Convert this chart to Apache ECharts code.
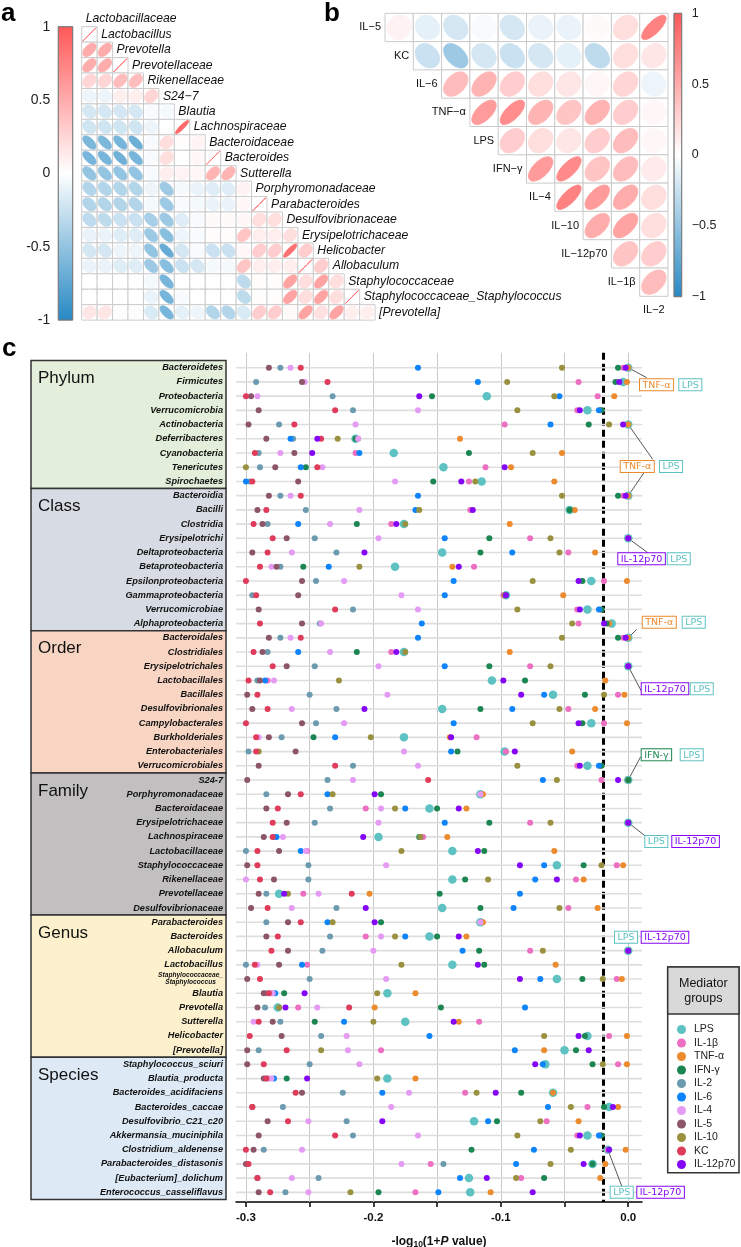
<!DOCTYPE html>
<html>
<head>
<meta charset="utf-8">
<script src="https://cdn.jsdelivr.net/npm/echarts@6.0.0/dist/echarts.min.js"></script>
<style>
html,body{margin:0;padding:0;background:#ffffff;}
#chart{width:741px;height:1247px;}
</style>
</head>
<body>
<div id="chart"></div>
<script>
// ================= DATA =================
// Panel a: taxa correlation (lower triangle, row i has i values)
const taxaA = ['Lactobacillaceae','Lactobacillus','Prevotella','Prevotellaceae','Rikenellaceae','S24\u22127','Blautia','Lachnospiraceae','Bacteroidaceae','Bacteroides','Sutterella','Porphyromonadaceae','Parabacteroides','Desulfovibrionaceae','Erysipelotrichaceae','Helicobacter','Allobaculum','Staphylococcaceae','Staphylococcaceae_Staphylococcus','[Prevotella]'];
const corrA = [
  [],
  [1],
  [0.5, 0.5],
  [0.5, 0.5, 1],
  [0.25, 0.25, 0.4, 0.4],
  [-0.08, -0.08, 0.1, 0.1, 0.25],
  [-0.2, -0.2, -0.2, -0.2, -0.03, -0.05],
  [-0.22, -0.22, -0.22, -0.22, -0.08, -0.01, 0.9],
  [-0.6, -0.6, -0.62, -0.68, -0.03, 0.2, 0.02, 0.07],
  [-0.62, -0.62, -0.66, -0.62, -0.03, 0.2, 0.0, 0.05, 1],
  [-0.5, -0.5, -0.5, -0.5, -0.03, 0.1, 0.07, 0.05, 0.45, 0.45],
  [-0.35, -0.35, -0.35, -0.35, -0.08, -0.45, -0.05, -0.1, -0.15, -0.15, 0.08],
  [-0.35, -0.35, -0.35, -0.35, -0.05, -0.45, -0.03, -0.05, -0.1, -0.1, 0.05, 1],
  [-0.3, -0.3, -0.25, -0.25, -0.4, -0.45, -0.15, -0.03, 0.03, 0.03, 0.05, 0.2, 0.2],
  [-0.1, -0.1, -0.15, -0.15, -0.45, -0.55, -0.08, -0.03, 0.02, 0.02, 0.35, 0.1, 0.1, 0.2],
  [-0.2, -0.2, -0.08, -0.08, -0.5, -0.7, -0.2, -0.03, -0.25, -0.25, 0.05, 0.3, 0.3, 0.85, 0.3],
  [-0.1, -0.1, -0.15, -0.15, -0.45, -0.55, -0.25, -0.2, -0.05, -0.05, 0.35, 0.1, 0.1, 0.1, 1, 0.3],
  [0, 0, 0, 0, -0.05, -0.62, 0, 0, 0, 0, -0.3, 0.02, 0.02, 0.55, 0.2, 0.55, 0.2],
  [0, 0, 0, 0, -0.1, -0.62, -0.03, 0, 0, 0, -0.3, 0.02, 0.02, 0.55, 0.2, 0.55, 0.2, 1],
  [0.15, 0.15, 0.02, 0.02, -0.18, -0.62, -0.12, -0.08, -0.35, -0.35, -0.18, 0.3, 0.3, 0.03, 0.55, 0.18, 0.55, 0.1, 0.1]
];
// Panel b: mediator correlation (upper triangle, row i has values for columns i+1..10)
const medsB = ['IL\u22125','KC','IL\u22126','TNF\u2212\u03b1','LPS','IFN\u2212\u03b3','IL\u22124','IL\u221210','IL\u221212p70','IL\u22121\u03b2','IL\u22122'];
const corrB = [
  [0.08, -0.12, -0.2, -0.03, -0.2, -0.1, -0.1, 0.03, 0.2, 0.75],
  [-0.25, -0.45, -0.2, -0.25, -0.2, -0.12, -0.3, 0.2, 0.15],
  [0.4, 0.45, 0.3, 0.2, 0.15, 0.05, 0.25, -0.08],
  [0.6, 0.68, 0.45, 0.35, 0.45, 0.3, 0.05],
  [0.3, 0.2, 0.15, 0.3, 0.4, 0.05],
  [0.6, 0.7, 0.35, 0.4, 0.12],
  [0.75, 0.6, 0.5, 0.2],
  [0.5, 0.55, 0.2],
  [0.35, 0.3],
  [0.4]
];
const corrTicks = [-1, -0.5, 0, 0.5, 1];

// Panel c: taxa by level
const levels = ['Phylum','Class','Order','Family','Genus','Species'];
const phylumTaxa = ['Bacteroidetes','Firmicutes','Proteobacteria','Verrucomicrobia','Actinobacteria','Deferribacteres','Cyanobacteria','Tenericutes','Spirochaetes'];
const classTaxa = ['Bacteroidia','Bacilli','Clostridia','Erysipelotrichi','Deltaproteobacteria','Betaproteobacteria','Epsilonproteobacteria','Gammaproteobacteria','Verrucomicrobiae','Alphaproteobacteria'];
const orderTaxa = ['Bacteroidales','Clostridiales','Erysipelotrichales','Lactobacillales','Bacillales','Desulfovibrionales','Campylobacterales','Burkholderiales','Enterobacteriales','Verrucomicrobiales'];
const familyTaxa = ['S24-7','Porphyromonadaceae','Bacteroidaceae','Erysipelotrichaceae','Lachnospiraceae','Lactobacillaceae','Staphylococcaceae','Rikenellaceae','Prevotellaceae','Desulfovibrionaceae'];
const genusTaxa = ['Parabacteroides','Bacteroides','Allobaculum','Lactobacillus','Staphylococcaceae_Staphylococcus','Blautia','Prevotella','Sutterella','Helicobacter','[Prevotella]'];
const speciesTaxa = ['Staphylococcus_sciuri','Blautia_producta','Bacteroides_acidifaciens','Bacteroides_caccae','Desulfovibrio_C21_c20','Akkermansia_muciniphila','Clostridium_aldenense','Parabacteroides_distasonis','[Eubacterium]_dolichum','Enterococcus_casseliflavus'];

const mediators = ['LPS','IL-1\u03b2','TNF-\u03b1','IFN-\u03b3','IL-2','IL-6','IL-4','IL-5','IL-10','KC','IL-12p70'];

// -log10(1+P) per taxon (59 rows) for each mediator
const valLPS = [
0, -0.004, -0.111, -0.032, 0, -0.214, -0.184, -0.145, -0.115,
0, -0.046, -0.176, 0, -0.146, -0.183, -0.029, -0.096, -0.032, -0.013,
0, -0.176, 0, -0.107, -0.059, -0.146, -0.029, -0.176, -0.097, -0.032,
0, -0.116, -0.156, 0, -0.196, -0.138, -0.056, -0.138, -0.274, -0.146,
-0.116, -0.156, 0, -0.138, -0.056, -0.189, -0.275, -0.175, -0.032, -0.050,
-0.065, -0.189, -0.059, -0.015, -0.121, -0.032, -0.016, -0.028, -0.125, -0.124];
const valIL1b = [
-0.004, -0.039, -0.024, -0.040, -0.097, -0.212, -0.214, -0.112, -0.125,
-0.004, -0.124, -0.186, -0.077, -0.047, -0.121, -0.019, -0.098, -0.040, -0.039,
-0.004, -0.186, -0.077, -0.283, -0.008, -0.047, -0.019, -0.119, -0.096, -0.040,
-0.021, -0.115, -0.206, -0.077, -0.161, -0.252, -0.009, -0.041, -0.255, -0.047,
-0.115, -0.206, -0.077, -0.252, -0.009, -0.280, -0.259, -0.117, -0.015, -0.194,
-0.008, -0.282, -0.128, -0.032, -0.064, -0.040, -0.016, -0.155, -0.084, -0.167];
const valTNFa = [
0, -0.001, -0.011, -0.022, 0, -0.132, -0.052, -0.092, -0.058,
0, -0.042, -0.093, 0, -0.026, -0.138, -0.001, -0.051, -0.022, -0.015,
0, -0.093, 0, -0.018, -0.003, -0.026, -0.001, -0.140, -0.044, -0.022,
0, -0.114, -0.127, 0, -0.142, -0.058, -0.004, -0.035, -0.203, -0.024,
-0.114, -0.127, 0, -0.057, -0.005, -0.167, -0.199, -0.133, -0.001, -0.066,
-0.001, -0.167, -0.059, -0.008, -0.039, -0.022, -0.002, -0.018, -0.022, -0.108];
const valIFNg = [
-0.008, -0.010, -0.154, -0.021, -0.031, -0.214, -0.125, -0.253, -0.153,
-0.008, -0.046, -0.213, -0.109, -0.116, -0.255, -0.036, -0.096, -0.021, -0.017,
-0.008, -0.213, -0.109, -0.081, -0.034, -0.116, -0.036, -0.247, -0.134, -0.021,
0, -0.194, -0.150, -0.109, -0.164, -0.113, -0.035, -0.128, -0.148, -0.116,
-0.194, -0.150, -0.117, -0.113, -0.036, -0.270, -0.147, -0.246, -0.034, -0.041,
-0.028, -0.268, -0.084, -0.019, -0.103, -0.021, -0.123, -0.028, -0.066, -0.196];
const valIL2 = [
-0.273, -0.292, -0.232, -0.216, -0.274, -0.263, -0.290, -0.289, -0.297,
-0.273, -0.253, -0.283, -0.246, -0.229, -0.273, -0.245, -0.295, -0.216, -0.242,
-0.273, -0.283, -0.246, -0.291, -0.250, -0.229, -0.245, -0.272, -0.298, -0.216,
-0.236, -0.284, -0.234, -0.246, -0.278, -0.300, -0.251, -0.251, -0.284, -0.229,
-0.284, -0.234, -0.240, -0.300, -0.250, -0.284, -0.285, -0.273, -0.241, -0.290,
-0.250, -0.284, -0.224, -0.271, -0.221, -0.216, -0.286, -0.145, -0.243, -0.269];
const valIL6 = [
-0.165, -0.118, -0.054, -0.023, -0.061, -0.265, -0.211, -0.257, -0.300,
-0.165, -0.167, -0.259, -0.144, -0.091, -0.235, -0.137, -0.144, -0.023, -0.162,
-0.165, -0.259, -0.144, -0.285, -0.066, -0.091, -0.137, -0.230, -0.139, -0.023,
-0.067, -0.236, -0.175, -0.144, -0.276, -0.257, -0.066, -0.073, -0.085, -0.090,
-0.236, -0.175, -0.130, -0.256, -0.069, -0.277, -0.081, -0.223, -0.156, -0.089,
-0.067, -0.278, -0.193, -0.063, -0.110, -0.023, -0.074, -0.088, -0.132, -0.149];
const valIL4 = [
-0.265, -0.254, -0.291, -0.165, -0.214, -0.212, -0.273, -0.240, -0.183,
-0.265, -0.211, -0.234, -0.196, -0.264, -0.280, -0.223, -0.178, -0.165, -0.241,
-0.265, -0.234, -0.196, -0.278, -0.189, -0.264, -0.223, -0.290, -0.176, -0.165,
-0.216, -0.116, -0.194, -0.196, -0.271, -0.253, -0.190, -0.300, -0.243, -0.264,
-0.116, -0.194, -0.200, -0.291, -0.190, -0.279, -0.244, -0.294, -0.221, -0.220,
-0.211, -0.280, -0.172, -0.186, -0.251, -0.165, -0.256, -0.178, -0.264, -0.251];
const valIL5 = [
-0.282, -0.256, -0.296, -0.290, -0.298, -0.284, -0.262, -0.277, -0.259,
-0.282, -0.291, -0.287, -0.268, -0.295, -0.276, -0.256, -0.259, -0.290, -0.256,
-0.282, -0.287, -0.268, -0.289, -0.299, -0.295, -0.256, -0.282, -0.261, -0.290,
-0.299, -0.267, -0.284, -0.268, -0.286, -0.274, -0.299, -0.278, -0.290, -0.296,
-0.267, -0.284, -0.267, -0.274, -0.299, -0.286, -0.291, -0.279, -0.272, -0.299,
-0.299, -0.286, -0.256, -0.295, -0.283, -0.290, -0.294, -0.300, -0.291, -0.290];
const valIL10 = [
-0.052, -0.095, -0.058, -0.087, -0.015, -0.228, -0.075, -0.300, -0.120,
-0.052, -0.164, -0.175, -0.061, -0.054, -0.211, -0.075, -0.097, -0.087, -0.044,
-0.052, -0.175, -0.061, -0.227, -0.019, -0.054, -0.075, -0.202, -0.290, -0.087,
-0.056, -0.232, -0.183, -0.061, -0.163, -0.178, -0.021, -0.110, -0.267, -0.054,
-0.232, -0.183, -0.067, -0.178, -0.020, -0.197, -0.274, -0.200, -0.066, -0.241,
-0.020, -0.197, -0.119, -0.045, -0.069, -0.087, -0.045, -0.061, -0.088, -0.218];
const valKC = [
-0.257, -0.236, -0.300, -0.230, -0.262, -0.241, -0.293, -0.244, -0.295,
-0.257, -0.284, -0.294, -0.279, -0.283, -0.289, -0.300, -0.292, -0.230, -0.289,
-0.257, -0.294, -0.279, -0.298, -0.291, -0.283, -0.300, -0.292, -0.292, -0.230,
-0.157, -0.257, -0.275, -0.279, -0.279, -0.291, -0.291, -0.289, -0.217, -0.283,
-0.257, -0.275, -0.280, -0.293, -0.289, -0.282, -0.219, -0.290, -0.297, -0.268,
-0.286, -0.284, -0.261, -0.295, -0.267, -0.230, -0.300, -0.298, -0.291, -0.281];
const valIL12p70 = [
-0.002, -0.007, -0.164, -0.038, -0.004, -0.244, -0.248, -0.097, -0.131,
-0.002, -0.122, -0.182, 0, -0.207, -0.133, -0.039, -0.096, -0.038, -0.019,
-0.002, -0.182, 0, -0.098, -0.084, -0.207, -0.039, -0.139, -0.089, -0.038,
-0.008, -0.199, -0.133, 0, -0.208, -0.118, -0.085, -0.056, -0.270, -0.206,
-0.199, -0.133, 0, -0.118, -0.085, -0.254, -0.269, -0.137, -0.039, -0.031,
-0.073, -0.252, -0.104, -0.012, -0.193, -0.038, -0.015, -0.035, -0.111, -0.075];

const xTickVals = [-0.3, -0.25, -0.2, -0.15, -0.1, -0.05, 0];
const xLabelVals = [-0.3, -0.2, -0.1, 0];
const cutoff = -0.0212; // -log10(1+0.05)

// ================= STYLE / LAYOUT =================
const FONT = '"Liberation Sans", Arial, sans-serif';
const medColors = ['#5ec2c2','#ec6fc2','#ec8a2e','#1c8652','#6c9bb0','#0d84fb','#e59bf3','#8c5568','#9a9140','#df3b5b','#8505f6'];
const levelColors = ['#e3eedb','#d7dce4','#f8d5c3','#c1bfbf','#fdf1cd','#dde9f5'];
const levelTaxa = [phylumTaxa, classTaxa, orderTaxa, familyTaxa, genusTaxa, speciesTaxa];
const taxaC = [].concat(...levelTaxa);

function corrColor(r){
  const w=[255,255,255], pos=[255,88,88], neg=[38,136,195];
  const c = r<0?neg:pos, t=Math.min(1,Math.abs(r));
  return 'rgb('+w.map((v,k)=>Math.round(v+(c[k]-v)*t)).join(',')+')';
}
function ellipsePoints(cx, cy, s, r){
  const d=Math.acos(Math.max(-1,Math.min(1,r))), pts=[];
  for(let k=0;k<64;k++){const t=k/64*2*Math.PI; pts.push([cx+s*Math.cos(t+d/2), cy-s*Math.cos(t-d/2)]);}
  return pts;
}
function cellShape(p0,p1,r,scale){
  const x=Math.min(p0[0],p1[0]), y=Math.min(p0[1],p1[1]);
  const w=Math.abs(p1[0]-p0[0]), h=Math.abs(p1[1]-p0[1]);
  const col=corrColor(r);
  return {type:'group', children:[
    {type:'rect', shape:{x:x,y:y,width:w,height:h}, style:{fill:'#fff', stroke:'#cbcbcb', lineWidth:1}},
    {type:'polygon', shape:{points:ellipsePoints(x+w/2,y+h/2,w*scale,r)}, style:{fill:col, stroke:col, lineWidth:0.9}}
  ]};
}
function gradientBar(api){
  const p0=api.coord([0,1]), p1=api.coord([1,-1]);
  return {type:'rect', shape:{x:p0[0], y:p0[1], width:p1[0]-p0[0], height:p1[1]-p0[1]},
    style:{fill:new echarts.graphic.LinearGradient(0,0,0,1,[{offset:0,color:corrColor(1)},{offset:0.5,color:'#ffffff'},{offset:1,color:corrColor(-1)}]), stroke:'#777', lineWidth:0.8}};
}

const cellsAData=[]; corrA.forEach((row,i)=>row.forEach((r,j)=>cellsAData.push([j,i,r])));
const cellsBData=[]; corrB.forEach((row,i)=>row.forEach((r,k)=>cellsBData.push([i+1+k,i,r])));

const chart = echarts.init(document.getElementById('chart'), null, {renderer:'canvas', width:741, height:1247});

const hiddenX = (g,max)=>({gridIndex:g, type:'value', min:0, max:max, show:false});
const series = [
  {name:'cellsA', type:'custom', xAxisIndex:0, yAxisIndex:0, silent:true, data:cellsAData,
   renderItem:(p,api)=>{const j=api.value(0), i=api.value(1); return cellShape(api.coord([j,i-1]),api.coord([j+1,i]),api.value(2),0.43);}},
  {name:'labelsA', type:'custom', xAxisIndex:0, yAxisIndex:0, silent:true, data:taxaA.map((_,i)=>[i,i]),
   renderItem:(p,api)=>{const i=api.value(0); const pt=api.coord([i,i-0.5]);
     return {type:'text', x:pt[0]+4, y:pt[1], style:{text:taxaA[i], font:'italic 12.2px '+FONT, fill:'#111', align:'left', verticalAlign:'middle'}};}},
  {name:'cellsB', type:'custom', xAxisIndex:1, yAxisIndex:1, silent:true, data:cellsBData,
   renderItem:(p,api)=>{const j=api.value(0), i=api.value(1); return cellShape(api.coord([j-1,i]),api.coord([j,i+1]),api.value(2),0.43);}},
  {name:'labelsB', type:'custom', xAxisIndex:1, yAxisIndex:1, silent:true, data:medsB.map((_,i)=>[i,i]),
   renderItem:(p,api)=>{const i=api.value(0);
     if(i<10){const pt=api.coord([i,i+0.5]); return {type:'text', x:pt[0]-4, y:pt[1], style:{text:medsB[i], font:'11px '+FONT, fill:'#111', align:'right', verticalAlign:'middle'}};}
     const pt=api.coord([9.5,10]); return {type:'text', x:pt[0], y:pt[1]+14, style:{text:medsB[i], font:'11px '+FONT, fill:'#111', align:'center', verticalAlign:'middle'}};}},
  {name:'cbarA', type:'custom', xAxisIndex:2, yAxisIndex:2, silent:true, data:[[0,0]], renderItem:(p,api)=>gradientBar(api)},
  {name:'cbarB', type:'custom', xAxisIndex:3, yAxisIndex:3, silent:true, data:[[0,0]], renderItem:(p,api)=>gradientBar(api)},
  {name:'rows', type:'custom', xAxisIndex:4, yAxisIndex:4, silent:true, z:1, data:taxaC.map((_,i)=>[0,i]),
   renderItem:(p,api)=>{const cs=p.coordSys; const y=api.coord([0,api.value(1)])[1];
     return {type:'line', shape:{x1:cs.x, y1:y, x2:cs.x+cs.width, y2:y}, style:{stroke:'#dedede', lineWidth:1.6}};},
   markLine:{silent:true, z:1, symbol:['none','none'], label:{show:false}, animation:false,
     data: xTickVals.map(v=>({xAxis:v, lineStyle:{color:'#cacaca', width:1, type:'solid'}}))
       .concat([{xAxis:cutoff, lineStyle:{color:'#000', width:3, type:[7,4]}}])}}
];
const medValues = [valLPS,valIL1b,valTNFa,valIFNg,valIL2,valIL6,valIL4,valIL5,valIL10,valKC,valIL12p70];
mediators.forEach((m,k)=>series.push({
  name:m, type:'scatter', xAxisIndex:4, yAxisIndex:4, z:3, silent:true,
  data: medValues[k].map((v,i)=>[v,i]),
  symbol:'circle', symbolSize: m==='LPS'?8.5:6,
  itemStyle:{color:medColors[k], opacity:1}, emphasis:{disabled:true}
}));

const option = {
  animation:false,
  backgroundColor:'#ffffff',
  textStyle:{fontFamily:FONT},
  grid:[
    {left:81.7, top:26.7, width:293.4, height:293.4, outerBoundsMode:'none'},
    {left:385, top:13.3, width:283, height:283, outerBoundsMode:'none'},
    {left:58.3, top:26.7, width:14.4, height:293.4, outerBoundsMode:'none'},
    {left:674, top:13.3, width:7.7, height:283.4, outerBoundsMode:'none'},
    {left:236, top:352.7, width:406, height:849.3, outerBoundsMode:'none'}
  ],
  xAxis:[
    hiddenX(0,19), hiddenX(1,10), hiddenX(2,1), hiddenX(3,1),
    {gridIndex:4, type:'value', min:-0.3078, max:0.0108, position:'bottom',
     axisLine:{show:true, onZero:false, lineStyle:{color:'#000', width:1.5}},
     axisTick:{show:true, customValues:xTickVals, length:5, lineStyle:{color:'#000', width:1.5}},
     splitLine:{show:false},
     axisLabel:{customValues:xLabelVals, margin:10, fontSize:11.5, fontWeight:'bold', color:'#111',
       formatter:v=>Math.abs(v)<1e-9?'0.0':v.toFixed(1)},
     name:'-log{sub|10}(1+{it|P} value)', nameLocation:'middle', nameGap:33,
     nameTextStyle:{fontSize:12, fontWeight:'bold', color:'#111', lineHeight:14,
       rich:{sub:{fontSize:8.5, fontWeight:'bold', color:'#111', verticalAlign:'bottom', lineHeight:9},
             it:{fontSize:12, fontWeight:'bold', fontStyle:'italic', color:'#111'}}}}
  ],
  yAxis:[
    {gridIndex:0, type:'value', min:0, max:19, inverse:true, show:false},
    {gridIndex:1, type:'value', min:0, max:10, inverse:true, show:false},
    {gridIndex:2, type:'value', min:-1, max:1, interval:0.5, position:'left',
     axisLine:{show:false}, axisTick:{show:false}, splitLine:{show:false},
     axisLabel:{customValues:corrTicks, fontSize:14, color:'#222', margin:8}},
    {gridIndex:3, type:'value', min:-1, max:1, interval:0.5, position:'right',
     axisLine:{show:false}, axisTick:{show:false}, splitLine:{show:false},
     axisLabel:{customValues:corrTicks, fontSize:12.5, color:'#222', margin:10, formatter:v=>String(v).replace('-','\u2212')}},
    {gridIndex:4, type:'value', min:-1.055, max:58.68, inverse:true,
     axisLine:{show:false, onZero:false}, axisTick:{show:false}, splitLine:{show:false},
     axisLabel:{customValues:taxaC.map((_,i)=>i), margin:13, fontSize:9.2, fontWeight:'bold', fontStyle:'italic', color:'#111',
       formatter:v=>{const n=taxaC[Math.round(v)]; if(n==='Staphylococcaceae_Staphylococcus') return '{s|Staphylococcaceae_}\n{s|Staphylococcus}'; return n;},
       rich:{s:{fontSize:6.6, fontWeight:'bold', fontStyle:'italic', color:'#111', lineHeight:7, align:'center'}}}}
  ],
  legend:{data:mediators, orient:'vertical', left:672, top:1019, itemWidth:9, itemHeight:9, itemGap:2.5,
    icon:'circle', selectedMode:false, textStyle:{fontSize:10.5, color:'#222', padding:[0,0,0,3]}},
  series:series
};
chart.setOption(option);

// ================= GRAPHIC OVERLAYS =================
const P = (x,y)=>chart.convertToPixel({gridIndex:4},[x,y]);
const graphics = [];
graphics.push({type:'text', x:1, y:14, style:{text:'a', font:'bold 26px '+FONT, fill:'#000', verticalAlign:'middle'}});
graphics.push({type:'text', x:324, y:14, style:{text:'b', font:'bold 26px '+FONT, fill:'#000', verticalAlign:'middle'}});
graphics.push({type:'text', x:2, y:349, style:{text:'c', font:'bold 26px '+FONT, fill:'#000', verticalAlign:'middle'}});

let start=0;
levels.forEach((lv,g)=>{
  const n=levelTaxa[g].length;
  const yTop=P(0,start-0.5)[1], yBot=P(0,start+n-0.5)[1];
  graphics.push({type:'rect', z:-1, shape:{x:31, y:yTop, width:195, height:yBot-yTop}, style:{fill:levelColors[g], stroke:'#333', lineWidth:1.5}});
  graphics.push({type:'text', z:0, x:38, y:yTop+18, style:{text:lv, font:'17px '+FONT, fill:'#111', verticalAlign:'middle'}});
  start+=n;
});

// legend box
graphics.push({type:'rect', z:-1, shape:{x:667.7, y:967, width:71.3, height:205.7}, style:{fill:'#fff', stroke:'#333', lineWidth:1.5}});
graphics.push({type:'rect', z:0, shape:{x:667.7, y:967, width:71.3, height:47}, style:{fill:'#d9d9d9', stroke:'#333', lineWidth:1.5}});
graphics.push({type:'text', z:1, x:703.3, y:991, style:{text:'Mediator\ngroups', font:'12.5px '+FONT, fill:'#111', align:'center', verticalAlign:'middle', lineHeight:15}});

// callouts
const callouts = [
  {row:0, end:[646.7,377.7]}, {row:4, end:[652.7,459.3]}, {row:9, end:[644,472.7]},
  {row:12, end:[647.7,552.7]}, {row:19, end:[636.7,629.3]}, {row:21, end:[641.7,691.7]},
  {row:29, end:[640.7,756.7]}, {row:32, end:[645.3,836]}, {row:55, end:[621.7,1186]}
];
callouts.forEach(cl=>{const a=P(valLPS[cl.row], cl.row);
  graphics.push({type:'line', z:2, shape:{x1:a[0],y1:a[1],x2:cl.end[0],y2:cl.end[1]}, style:{stroke:'#444', lineWidth:0.9}});});
const tags = [
  ['TNF-\u03b1',640,379.3], ['LPS',679.3,379.3],
  ['TNF-\u03b1',620.7,461], ['LPS',660,461],
  ['IL-12p70',618.3,553.3], ['LPS',667.7,553.3],
  ['TNF-\u03b1',642.7,616.7], ['LPS',682.7,616.7],
  ['IL-12p70',641.7,683.3], ['LPS',690.7,683.3],
  ['IFN-\u03b3',641.7,749.3], ['LPS',680.7,749.3],
  ['LPS',645.3,836], ['IL-12p70',672.3,836],
  ['LPS',615,931.7], ['IL-12p70',641.7,931.7],
  ['LPS',610.7,1186.7], ['IL-12p70',637.3,1186.7]
];
tags.forEach(t=>{const col=medColors[mediators.indexOf(t[0])];
  graphics.push({type:'text', z:10, x:t[1], y:t[2], style:{text:t[0], font:'9.5px "DejaVu Sans", sans-serif', fill:col,
    backgroundColor:'#fff', borderColor:col, borderWidth:1, padding:[1,2.5,0,2.5], verticalAlign:'top', align:'left', lineHeight:10}});});

chart.setOption({graphic:graphics});
</script>
</body>
</html>
